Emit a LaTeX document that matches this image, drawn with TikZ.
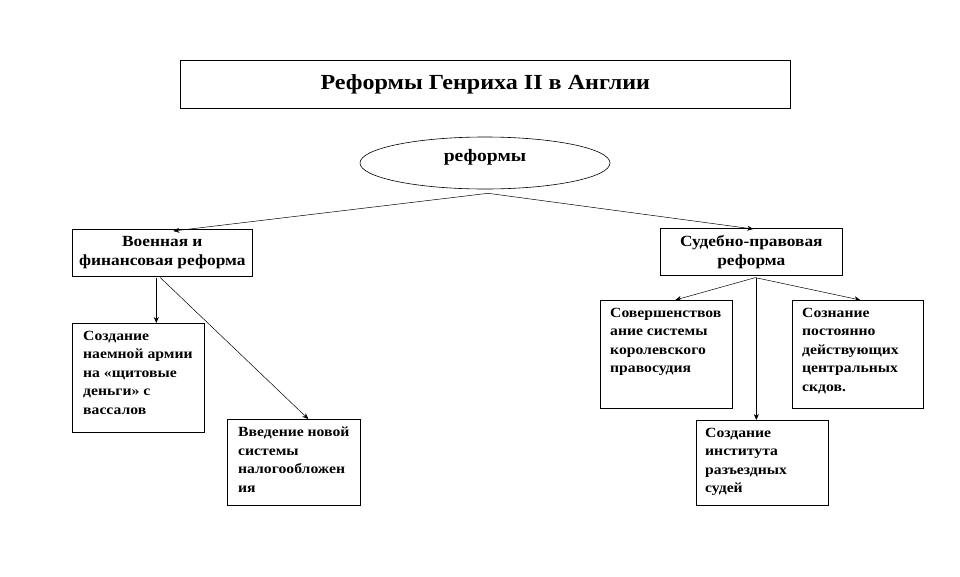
\documentclass[tikz,border=0pt]{standalone}
\usepackage{fontspec}
\setmainfont{Liberation Serif}
\newfontfamily\widefont[FakeStretch=1.12]{Liberation Serif}
\usetikzlibrary{arrows.meta,shapes.geometric,calc}
\tikzset{
  box/.style={draw, rectangle, line width=0.6pt, inner sep=0pt, anchor=north west},
  txt/.style={font=\widefont\bfseries\fontsize{14}{18.5}\selectfont, align=left, anchor=north west, inner sep=0pt},
  mtxt/.style={font=\widefont\bfseries\fontsize{15.5}{19}\selectfont, align=center, inner sep=0pt},
  arr/.style={-{Stealth[length=6pt,width=5pt]}, line width=0.5pt},
}
\begin{document}
\begin{tikzpicture}[x=1pt,y=-1pt]
\useasboundingbox (0,0) rectangle (960,576);
% title
\node[box, minimum width=610pt, minimum height=48pt] (title) at (180,60) {};
\node[font=\widefont\bfseries\fontsize{21.5}{24}\selectfont, inner sep=0pt] (titletext) at (title.center) {Реформы Генриха II в Англии};
% ellipse
\node[draw, ellipse, line width=0.6pt, minimum width=250pt, minimum height=52pt, inner sep=0pt] (ell) at (485,163) {};
\node[font=\widefont\bfseries\fontsize{17.5}{19}\selectfont, inner sep=0pt] (elltext) at (485,157) {реформы};
\coordinate (hub) at ([xshift=3pt,yshift=-4pt]ell.south);
% middle boxes
\node[box, minimum width=180pt, minimum height=47pt] (mil) at (72,229) {};
\node[mtxt] (miltext) at (mil.center) {Военная и\\финансовая реформа};
\node[box, minimum width=182pt, minimum height=47pt] (jud) at (660,228) {};
\node[mtxt] (judtext) at (jud.center) {Судебно-правовая\\реформа};
% children left
\node[box, minimum width=132pt, minimum height=109pt] (c1) at (72,323) {};
\node[txt] (c1text) at ([xshift=11pt,yshift=-8pt]c1.north west) {Создание\\наемной армии\\на «щитовые\\деньги» с\\вассалов};
\node[box, minimum width=133pt, minimum height=86pt] (c2) at (227,419) {};
\node[txt] (c2text) at ([xshift=11pt,yshift=-8pt]c2.north west) {Введение новой\\системы\\налогообложен\\ия};
% children right
\node[box, minimum width=132pt, minimum height=108pt] (r1) at (600,300) {};
\node[txt] (r1text) at ([xshift=10pt,yshift=-8pt]r1.north west) {Совершенствов\\ание системы\\королевского\\правосудия};
\node[box, minimum width=131pt, minimum height=108pt] (r2) at (792,300) {};
\node[txt] (r2text) at ([xshift=10pt,yshift=-8pt]r2.north west) {Сознание\\постоянно\\действующих\\центральных\\скдов.};
\node[box, minimum width=132pt, minimum height=85pt] (r3) at (696,420) {};
\node[txt] (r3text) at ([xshift=9pt,yshift=-8pt]r3.north west) {Создание\\института\\разъездных\\судей};
% connectors
\draw[arr] (hub) -- ([xshift=11pt,yshift=-2pt]mil.north);
\draw[arr] (hub) -- ([xshift=2pt,yshift=-1pt]jud.north);
\draw[arr] ([xshift=-6pt,yshift=-1pt]mil.south) -- ([xshift=-6pt]mil.south |- c1.north);
\draw[arr] ([xshift=-2pt,yshift=-1pt]mil.south) -- ([xshift=14.5pt]c2.north);
\draw[arr] ([xshift=4pt,yshift=-2pt]jud.south) -- ([xshift=9pt]r1.north);
\draw[arr] ([xshift=4pt,yshift=-2pt]jud.south) -- ([xshift=2.5pt]r2.north);
\draw[arr] ([xshift=5pt,yshift=-2pt]jud.south) -- ([xshift=5pt]jud.south |- r3.north);
\end{tikzpicture}
\end{document}
